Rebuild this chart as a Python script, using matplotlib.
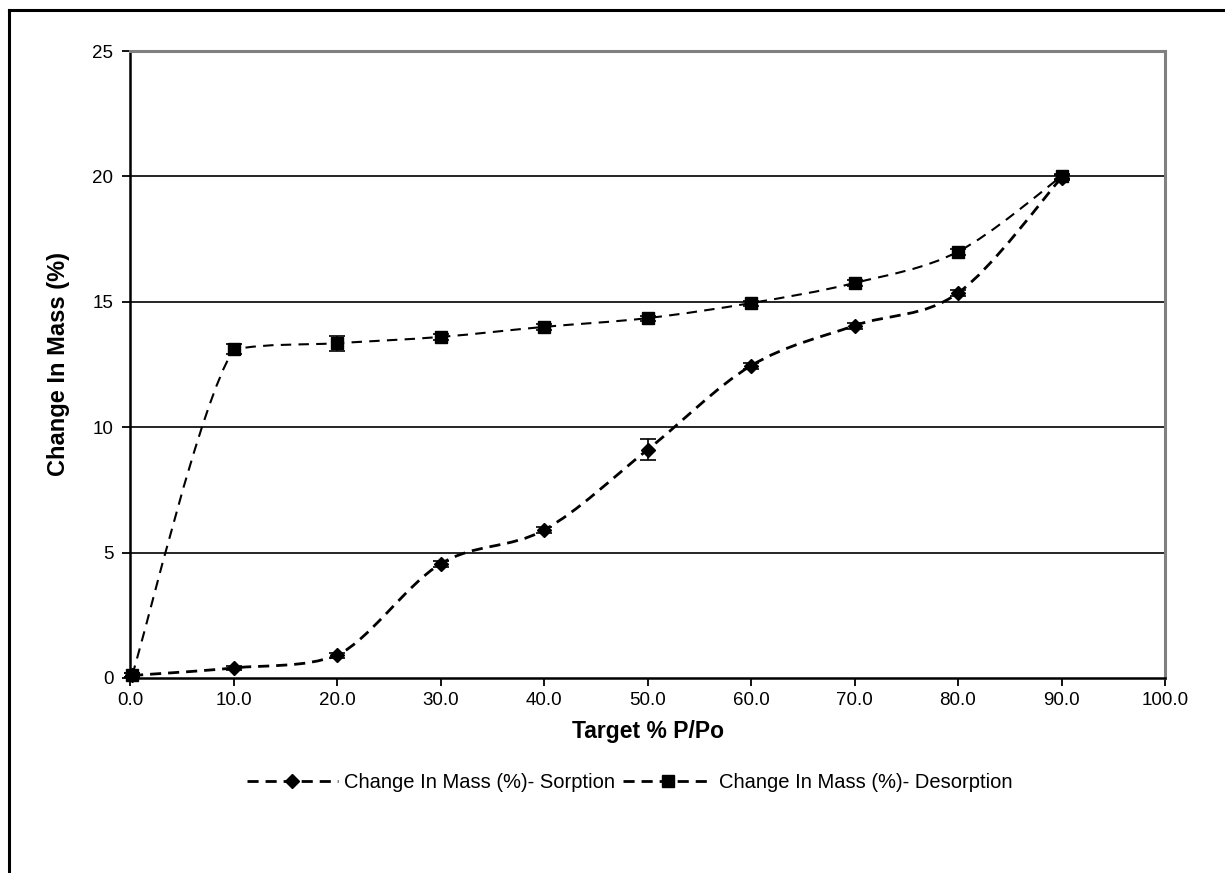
import numpy as np
import matplotlib
matplotlib.use('Agg')
import matplotlib.pyplot as plt
from matplotlib.path import Path
from matplotlib.patches import PathPatch
from matplotlib.lines import Line2D

plt.rcParams['font.family'] = ['Liberation Sans', 'DejaVu Sans']

# Data
target = [0.2, 10.0, 20.0, 30.0, 40.0, 50.0, 60.0, 70.0, 80.0, 90.0]
sorption = [0.1, 0.4, 0.9, 4.55, 5.9, 9.1, 12.45, 14.05, 15.35, 19.95]
sorption_err = [0.08, 0.08, 0.1, 0.12, 0.12, 0.42, 0.12, 0.12, 0.12, 0.1]
desorption = [0.1, 13.1, 13.35, 13.6, 14.0, 14.35, 14.95, 15.75, 17.0, 20.0]
desorption_err = [0.08, 0.2, 0.3, 0.12, 0.12, 0.1, 0.1, 0.12, 0.12, 0.1]

x_ticks = np.arange(0, 101, 10)
y_ticks = [0, 5, 10, 15, 20, 25]


def smooth_path(x, y):
    # smoothed line like Excel: Catmull-Rom Beziers, handles kept inside each segment
    pts = np.column_stack([x, y])
    verts = [pts[0]]
    codes = [Path.MOVETO]
    n = len(pts)
    for i in range(n - 1):
        p0 = pts[max(i - 1, 0)]
        p1 = pts[i]
        p2 = pts[i + 1]
        p3 = pts[min(i + 2, n - 1)]
        c1 = p1 + (p2 - p0) / 6.0
        c2 = p2 - (p3 - p1) / 6.0
        lo, hi = min(p1[1], p2[1]), max(p1[1], p2[1])
        c1[1] = np.clip(c1[1], lo, hi)
        c2[1] = np.clip(c2[1], lo, hi)
        verts += [c1, c2, p2]
        codes += [Path.CURVE4] * 3
    return Path(verts, codes)


fig = plt.figure(figsize=(12.25, 8.73), dpi=100)
ax = fig.add_axes([130 / 1225, 195 / 873, 1035 / 1225, 627 / 873])

for yv in y_ticks[1:-1]:
    ax.axhline(yv, color='black', lw=1.2, zorder=1)

ax.add_patch(PathPatch(smooth_path(target, sorption), fill=False, color='black',
                       lw=2.0, linestyle=(0, (4, 2.5)), zorder=3))
ax.add_patch(PathPatch(smooth_path(target, desorption), fill=False, color='black',
                       lw=1.5, linestyle=(0, (5, 3.5)), zorder=3))

ax.errorbar(target, sorption, yerr=sorption_err, fmt='D', color='black', ms=7,
            capsize=6, elinewidth=1.2, capthick=1.2, zorder=4, clip_on=False)
ax.errorbar(target, desorption, yerr=desorption_err, fmt='s', color='black', ms=8,
            capsize=6, elinewidth=1.2, capthick=1.2, zorder=4, clip_on=False)

ax.set_xlim(0, 100)
ax.set_ylim(0, 25)
ax.set_xticks(x_ticks)
ax.set_xticklabels(['%.1f' % v for v in x_ticks])
ax.set_yticks(y_ticks)
ax.tick_params(axis='both', direction='out', length=6, width=1.3, labelsize=13.5,
               colors='black')
ax.tick_params(axis='x', pad=4)
ax.tick_params(axis='y', pad=6)

for side in ['left', 'bottom']:
    ax.spines[side].set_color('black')
    ax.spines[side].set_linewidth(1.8)
for side in ['top', 'right']:
    ax.spines[side].set_color('#808080')
    ax.spines[side].set_linewidth(2.2)

ax.set_xlabel('Target % P/Po', fontsize=16.5, fontweight='bold', labelpad=8)
ax.set_ylabel('Change In Mass (%)', fontsize=17, fontweight='bold', labelpad=16)

handles = [
    Line2D([], [], color='black', lw=2.0, linestyle=(0, (4, 2.5)), marker='D', ms=7),
    Line2D([], [], color='black', lw=2.0, linestyle=(0, (4, 2.5)), marker='s', ms=8),
]
labels = ['Change In Mass (%)- Sorption', 'Change In Mass (%)- Desorption']
fig.legend(handles, labels, loc='center', bbox_to_anchor=(630 / 1225, 1 - 783 / 873),
           ncol=2, frameon=False, fontsize=14.5, handlelength=4.5, handletextpad=0.3,
           columnspacing=0.4)

# outer chart border
fig.add_artist(Line2D([9 / 1225, 1.0], [1 - 10 / 873, 1 - 10 / 873], color='black',
                      lw=2.2, transform=fig.transFigure))
fig.add_artist(Line2D([9 / 1225, 9 / 1225], [0.0, 1 - 10 / 873], color='black',
                      lw=2.2, transform=fig.transFigure))

fig.savefig('out.png', dpi=100)
